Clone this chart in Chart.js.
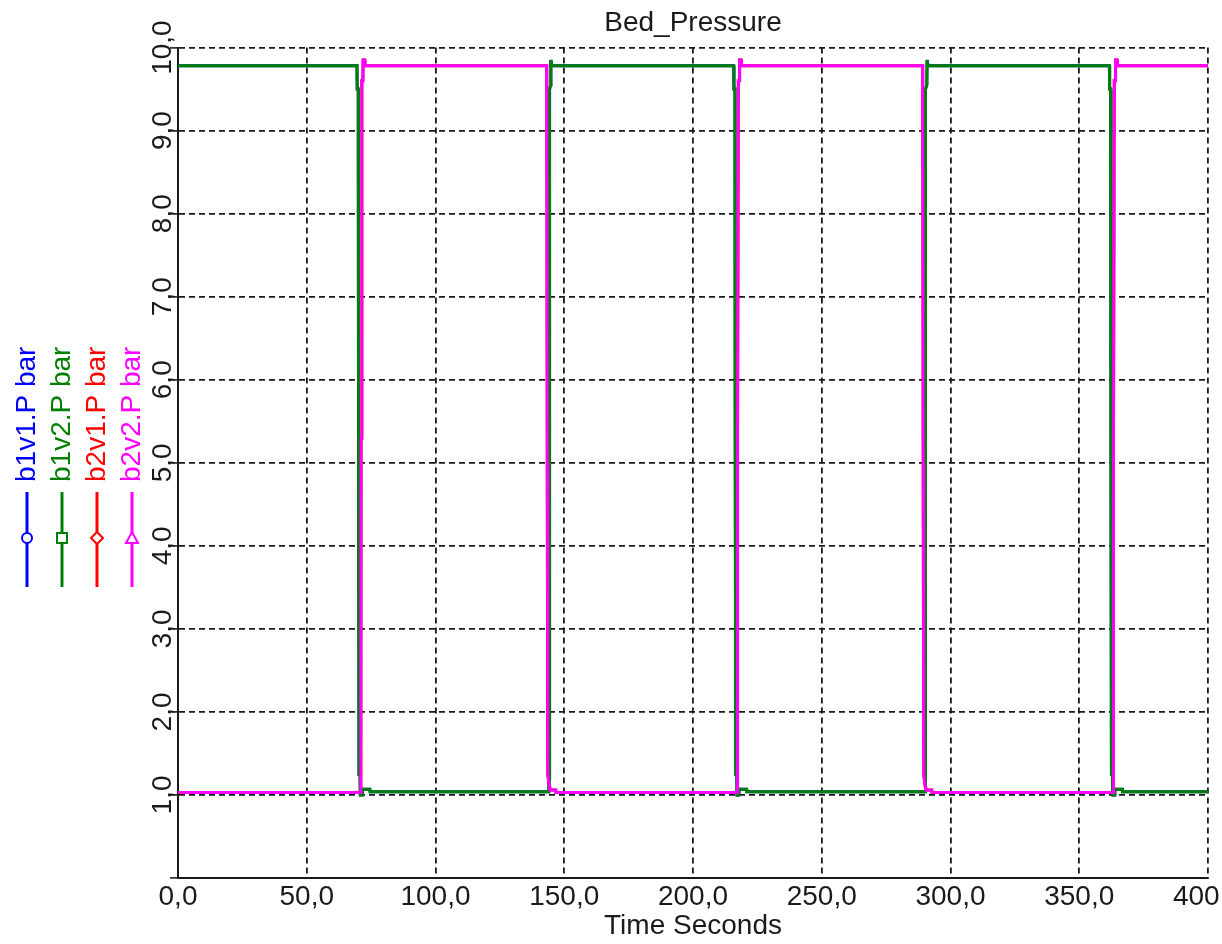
<!DOCTYPE html>
<html>
<head>
<meta charset="utf-8">
<title>Bed_Pressure</title>
<script src="https://cdn.jsdelivr.net/npm/chart.js@4.4.1/dist/chart.umd.min.js"></script>
<style>
  html, body { margin: 0; padding: 0; background: #fff; }
  #wrap { width: 1222px; height: 944px; position: relative; }
</style>
</head>
<body>
<div id="wrap"><canvas id="bedPressure"></canvas></div>
<script>
// time (s) and pressure (bar)
const b1Time = [0, 69.5, 69.6, 70.0, 70.1, 70.3, 70.7, 70.8, 71.5, 71.6, 74.5, 74.6,
  144.0, 144.1, 144.3, 144.7, 144.8, 145.2,
  215.8, 215.9, 216.3, 216.4, 216.6, 217.0, 217.1, 217.8, 217.9, 220.8, 220.9,
  290.1, 290.2, 290.4, 290.8, 290.9, 291.3,
  361.7, 361.8, 362.2, 362.3, 362.5, 362.9, 363.0, 363.7, 363.8, 366.7, 366.8, 400];
const b1v1Bar = [9.78, 9.78, 9.5, 9.5, 5.5, 1.25, 1.25, 1.0, 1.0, 1.07, 1.07, 1.04,
  1.04, 1.2, 9.5, 9.55, 9.85, 9.78,
  9.78, 9.5, 9.5, 5.3, 1.25, 1.25, 1.0, 1.0, 1.07, 1.07, 1.04,
  1.04, 1.2, 9.5, 9.55, 9.85, 9.78,
  9.78, 9.5, 9.5, 5.4, 1.25, 1.25, 1.0, 1.0, 1.07, 1.07, 1.04, 1.04];
const b1v2Bar = [9.78, 9.78, 9.5, 9.5, 5.5, 1.25, 1.25, 1.0, 1.0, 1.07, 1.07, 1.04,
  1.04, 1.2, 9.5, 9.55, 9.85, 9.78,
  9.78, 9.5, 9.5, 5.3, 1.25, 1.25, 1.0, 1.0, 1.07, 1.07, 1.04,
  1.04, 1.2, 9.5, 9.55, 9.85, 9.78,
  9.78, 9.5, 9.5, 5.4, 1.25, 1.25, 1.0, 1.0, 1.07, 1.07, 1.04, 1.04];

const b2Time = [0, 71.0, 71.1, 71.4, 71.8, 71.9, 72.5, 72.6,
  143.2, 143.4, 143.6, 144.2, 144.4, 146.7, 146.8,
  217.2, 217.3, 217.6, 218.0, 218.1, 218.7, 218.8,
  289.2, 289.4, 289.6, 290.2, 290.4, 292.7, 292.8,
  363.2, 363.3, 363.6, 364.0, 364.1, 364.7, 364.8, 400];
const b2v1Bar = [1.03, 1.03, 5.3, 9.6, 9.6, 9.85, 9.85, 9.78,
  9.78, 5.0, 1.25, 1.1, 1.06, 1.06, 1.03,
  1.03, 5.3, 9.6, 9.6, 9.85, 9.85, 9.78,
  9.78, 5.0, 1.25, 1.1, 1.06, 1.06, 1.03,
  1.03, 5.3, 9.6, 9.6, 9.85, 9.85, 9.78, 9.78];
const b2v2Bar = [1.03, 1.03, 5.3, 9.6, 9.6, 9.85, 9.85, 9.78,
  9.78, 5.0, 1.25, 1.1, 1.06, 1.06, 1.03,
  1.03, 5.3, 9.6, 9.6, 9.85, 9.85, 9.78,
  9.78, 5.0, 1.25, 1.1, 1.06, 1.06, 1.03,
  1.03, 5.3, 9.6, 9.6, 9.85, 9.85, 9.78, 9.78];

const seriesNames = ['b1v1.P bar', 'b1v2.P bar', 'b2v1.P bar', 'b2v2.P bar'];
const xTickLabels = ['0,0', '50,0', '100,0', '150,0', '200,0', '250,0', '300,0', '350,0', '400,0'];
const yTickLabels = ['', '1,0', '2,0', '3,0', '4,0', '5,0', '6,0', '7,0', '8,0', '9,0', '10,0'];

const FONT = '"Liberation Sans", Arial, sans-serif';
Chart.defaults.font.family = FONT;
Chart.defaults.font.size = 28;
Chart.defaults.color = '#1a1a1a';

function toPoints(t, v) {
  return t.map((x, i) => ({ x: x, y: v[i] }));
}

// legend is drawn vertically on the left like the original
const sideLegend = {
  id: 'sideLegend',
  afterDraw(chart) {
    const ctx = chart.ctx;
    const shapes = ['circle', 'square', 'diamond', 'triangle'];
    chart.data.datasets.forEach((ds, i) => {
      const x = 27 + i * 35;
      const y = 538;
      ctx.save();
      ctx.strokeStyle = ds.borderColor;
      ctx.lineWidth = 3;
      ctx.beginPath();
      ctx.moveTo(x, 492);
      ctx.lineTo(x, 587);
      ctx.stroke();

      ctx.lineWidth = 2;
      ctx.fillStyle = '#fff';
      ctx.beginPath();
      if (shapes[i] === 'circle') {
        ctx.arc(x, y, 5, 0, Math.PI * 2);
      } else if (shapes[i] === 'square') {
        ctx.rect(x - 5, y - 5, 10, 10);
      } else if (shapes[i] === 'diamond') {
        ctx.moveTo(x, y - 6); ctx.lineTo(x + 6, y); ctx.lineTo(x, y + 6); ctx.lineTo(x - 6, y);
        ctx.closePath();
      } else {
        ctx.moveTo(x, y - 6); ctx.lineTo(x + 6, y + 5); ctx.lineTo(x - 6, y + 5);
        ctx.closePath();
      }
      ctx.fill();
      ctx.stroke();

      ctx.translate(x + 8, 482);
      ctx.rotate(-Math.PI / 2);
      ctx.fillStyle = ds.borderColor;
      ctx.font = '28px ' + FONT;
      ctx.textAlign = 'left';
      ctx.textBaseline = 'alphabetic';
      ctx.fillText(ds.label, 0, 0);
      ctx.restore();
    });
  }
};

const ctx = document.getElementById('bedPressure').getContext('2d');
const bedChart = new Chart(ctx, {
  type: 'line',
  data: {
    datasets: [
      { label: seriesNames[0], data: toPoints(b1Time, b1v1Bar), borderColor: '#0000ff', order: 4 },
      { label: seriesNames[1], data: toPoints(b1Time, b1v2Bar), borderColor: '#008000', order: 2 },
      { label: seriesNames[2], data: toPoints(b2Time, b2v1Bar), borderColor: '#ff0000', order: 3 },
      { label: seriesNames[3], data: toPoints(b2Time, b2v2Bar), borderColor: '#ff00ff', order: 1 }
    ]
  },
  options: {
    responsive: true,
    maintainAspectRatio: false,
    animation: false,
    layout: { padding: { top: 0, right: 14, bottom: 0, left: 0 } },
    elements: {
      point: { radius: 0 },
      line: { borderWidth: 3, tension: 0 }
    },
    plugins: {
      legend: { display: false },
      tooltip: { enabled: false },
      title: {
        display: true,
        text: 'Bed_Pressure',
        fullSize: false,
        font: { size: 28, weight: 'normal' },
        color: '#1a1a1a',
        padding: { top: 6, bottom: 8 }
      }
    },
    scales: {
      x: {
        type: 'linear',
        min: 0,
        max: 400,
        ticks: {
          stepSize: 50,
          autoSkip: false,
          maxRotation: 0,
          padding: 2,
          callback: function(value, index) { return xTickLabels[index]; }
        },
        grid: { color: '#1a1a1a', lineWidth: 1.8, drawTicks: false },
        border: { display: true, color: '#1a1a1a', width: 2, dash: [6, 4] },
        title: {
          display: true,
          text: 'Time Seconds',
          font: { size: 28 },
          color: '#1a1a1a',
          padding: { top: 0, bottom: 1 }
        },
        afterFit: function(scale) {
          scale.height = 66;
          scale.paddingLeft = 0;
          scale.paddingRight = 0;
        }
      },
      y: {
        min: 0,
        max: 10,
        ticks: {
          stepSize: 1,
          autoSkip: false,
          minRotation: 90,
          maxRotation: 90,
          crossAlign: 'center',
          padding: -21,
          callback: function(value, index) { return yTickLabels[index]; }
        },
        grid: {
          color: '#1a1a1a', lineWidth: 1.8,
          tickLength: 8, tickColor: '#111', tickWidth: 1.5, tickBorderDash: []
        },
        border: { display: true, color: '#1a1a1a', width: 2, dash: [6, 4] },
        afterFit: function(scale) {
          scale.width = 178;
          scale.paddingTop = 0;
          scale.paddingBottom = 0;
        }
      }
    }
  },
  plugins: [sideLegend]
});
</script>
</body>
</html>
